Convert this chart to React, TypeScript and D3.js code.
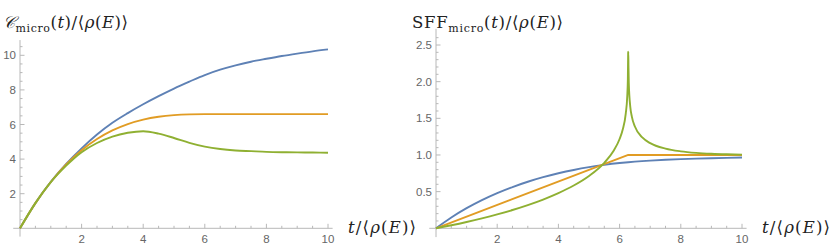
import React from 'react';
import * as d3 from 'd3';

// left panel: complexity, sampled every 0.5
const cTimes = [0, 0.5, 1, 1.5, 2, 2.5, 3, 3.5, 4, 4.5, 5, 5.5, 6, 6.5, 7, 7.5, 8, 8.5, 9, 9.5, 10];
const cGOE = [0, 1.454, 2.68, 3.72, 4.62, 5.42, 6.1, 6.66, 7.17, 7.64, 8.08, 8.48, 8.86, 9.17, 9.42, 9.63, 9.8, 9.96, 10.1, 10.23, 10.34];
const cGUE = [0, 1.454, 2.677, 3.688, 4.509, 5.159, 5.658, 6.026, 6.283, 6.449, 6.544, 6.587, 6.599, 6.6, 6.6, 6.6, 6.6, 6.6, 6.6, 6.6, 6.6];
const cGSE = [0, 1.454, 2.67, 3.62, 4.4, 4.93, 5.3, 5.52, 5.61, 5.47, 5.22, 4.94, 4.72, 4.58, 4.5, 4.46, 4.42, 4.4, 4.39, 4.38, 4.37];

// right panel: spectral form factor
const goeTimes = [0, 0.5, 1, 1.5, 2, 2.5, 3, 3.5, 4, 4.5, 5, 5.5, 6, 6.2832, 6.5, 7, 7.5, 8, 8.5, 9, 9.5, 10];
const sffGOE = [0, 0.1474, 0.2743, 0.3843, 0.4798, 0.5628, 0.6349, 0.6971, 0.7504, 0.7958, 0.8338, 0.865, 0.8899, 0.9014, 0.909, 0.9234, 0.9345, 0.9432, 0.9503, 0.9561, 0.9609, 0.965];
const gueTimes = [0, 6.2832, 10];
const sffGUE = [0, 1, 1];
const gseTimes = [0, 0.5, 1, 1.5, 2, 2.5, 3, 3.5, 4, 4.5, 5, 5.5, 5.8, 6, 6.1, 6.2, 6.25, 6.27, 6.28, 6.2832, 6.29, 6.3, 6.35, 6.4, 6.5, 6.75, 7, 7.5, 8, 8.5, 9, 9.5, 10];
const sffGSE = [0, 0.0414, 0.0865, 0.1357, 0.1897, 0.2494, 0.3162, 0.3919, 0.4794, 0.5836, 0.7139, 0.8934, 1.0535, 1.2174, 1.3435, 1.5602, 1.8014, 2.0372, 2.395, 2.41, 2.209, 1.9858, 1.6532, 1.524, 1.3879, 1.2353, 1.1617, 1.0867, 1.0496, 1.0288, 1.0164, 1.0091, 1.0047];

const cTicks = [2, 4, 6, 8, 10];
const tTicks = [2, 4, 6, 8, 10];
const sffTicks = [0.5, 1.0, 1.5, 2.0, 2.5];

const BLUE = '#5e81b5';
const ORANGE = '#e19c24';
const GREEN = '#8fb032';
const AXIS = '#b8b8b8';
const LABEL = '#666';
const SERIF = 'DejaVu Serif, Liberation Serif, serif';

type Series = { t: number[]; v: number[]; color: string; straight?: boolean };

function Panel(props: {
  x0: number; x1: number; y0: number; y1: number;
  yMax: number; yTicks: number[]; yMinor: number; yFmt: (d: number) => string;
  series: Series[]; yLabel: React.ReactNode; xLabelX: number;
}) {
  const { x0, x1, y0, y1, yMax, yTicks, yMinor, yFmt, series } = props;
  const x = d3.scaleLinear().domain([0, 10]).range([x0, x1]);
  const y = d3.scaleLinear().domain([0, yMax]).range([y0, y1]);
  const line = (s: Series) =>
    d3.line<number>()
      .x((_, i) => x(s.t[i]))
      .y((d) => y(d))
      .curve(s.straight ? d3.curveLinear : d3.curveMonotoneX)(s.v) || '';
  const xMinor = d3.range(0.5, 10.01, 0.5).filter((d) => !tTicks.includes(d));
  const yMinorTicks = d3.range(yMinor, y.invert(y1 - 12), yMinor)
    .filter((d) => !yTicks.some((t) => Math.abs(t - d) < 1e-6));
  const ySpan = yMax / 10;
  return (
    <g>
      {/* axes */}
      <line x1={x(-0.22)} x2={x(10.15)} y1={y0} y2={y0} stroke={AXIS} strokeWidth={1} />
      <line x1={x0} x2={x0} y1={y(-0.48 * ySpan)} y2={y(yMax * 1.088)} stroke={AXIS} strokeWidth={1} />
      {tTicks.map((d) => (
        <g key={'xt' + d}>
          <line x1={x(d)} x2={x(d)} y1={y0} y2={y0 - 4.5} stroke={AXIS} />
          <text x={x(d)} y={y0 + 14.5} textAnchor="middle" fontFamily="Liberation Sans, Arial, sans-serif" fontSize={11.5} fill={LABEL}>{d}</text>
        </g>
      ))}
      {xMinor.map((d) => (
        <line key={'xm' + d} x1={x(d)} x2={x(d)} y1={y0} y2={y0 - 2.5} stroke={AXIS} />
      ))}
      {yTicks.map((d) => (
        <g key={'yt' + d}>
          <line x1={x0} x2={x0 + 4.5} y1={y(d)} y2={y(d)} stroke={AXIS} />
          <text x={x0 - 4} y={y(d) + 4} textAnchor="end" fontFamily="Liberation Sans, Arial, sans-serif" fontSize={11.5} fill={LABEL}>{yFmt(d)}</text>
        </g>
      ))}
      {yMinorTicks.map((d) => (
        <line key={'ym' + d} x1={x0} x2={x0 + 2.5} y1={y(d)} y2={y(d)} stroke={AXIS} />
      ))}
      {series.map((s, i) => (
        <path key={i} d={line(s)} fill="none" stroke={s.color} strokeWidth={1.9} strokeLinejoin="round" />
      ))}
      {props.yLabel}
      <text x={props.xLabelX} y={233} fontFamily={SERIF} fontSize={16.5} fill="#222" textLength={68} lengthAdjust="spacing">
        <tspan fontStyle="italic">t</tspan>/⟨<tspan fontStyle="italic">ρ</tspan>(<tspan fontStyle="italic">E</tspan>)⟩
      </text>
    </g>
  );
}

export default function App() {
  return (
    <svg width={831} height={249} style={{ position: 'absolute', left: 0, top: 0, background: '#fff' }}>
      <Panel
        x0={20} x1={328} y0={228.3} y1={55.3} yMax={10}
        yTicks={cTicks} yMinor={0.5} yFmt={(d) => String(d)}
        series={[
          { t: cTimes, v: cGOE, color: BLUE },
          { t: cTimes, v: cGUE, color: ORANGE },
          { t: cTimes, v: cGSE, color: GREEN },
        ]}
        xLabelX={348}
        yLabel={
          <text x={3} y={28} fontFamily={SERIF} fontSize={16.5} fill="#222" textLength={125} lengthAdjust="spacing">
            <tspan fontStyle="italic">𝒞</tspan>
            <tspan fontSize={11} dy={4}>micro</tspan>
            <tspan dy={-4}>(</tspan><tspan fontStyle="italic">t</tspan>)/⟨<tspan fontStyle="italic">ρ</tspan>(<tspan fontStyle="italic">E</tspan>)⟩
          </text>
        }
      />
      <Panel
        x0={436} x1={742} y0={228.3} y1={45} yMax={2.5}
        yTicks={sffTicks} yMinor={0.1} yFmt={(d) => d.toFixed(1)}
        series={[
          { t: goeTimes, v: sffGOE, color: BLUE },
          { t: gueTimes, v: sffGUE, color: ORANGE, straight: true },
          { t: gseTimes, v: sffGSE, color: GREEN },
        ]}
        xLabelX={762}
        yLabel={
          <text x={412} y={28} fontFamily={SERIF} fontSize={16.5} fill="#222" textLength={151} lengthAdjust="spacing">
            SFF
            <tspan fontSize={11} dy={4}>micro</tspan>
            <tspan dy={-4}>(</tspan><tspan fontStyle="italic">t</tspan>)/⟨<tspan fontStyle="italic">ρ</tspan>(<tspan fontStyle="italic">E</tspan>)⟩
          </text>
        }
      />
    </svg>
  );
}
